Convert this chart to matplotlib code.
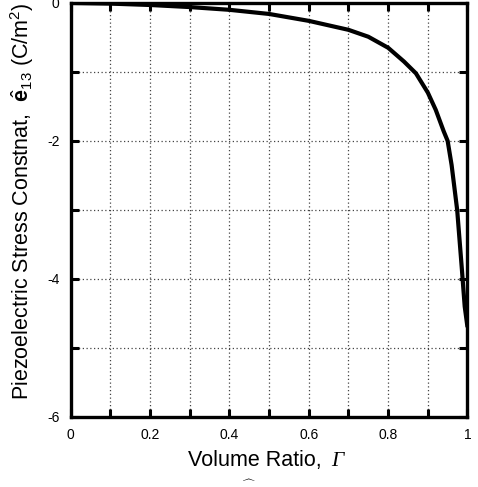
import matplotlib
matplotlib.use("Agg")
import matplotlib.pyplot as plt
from matplotlib.ticker import MultipleLocator, FixedLocator

plt.rcParams['font.family'] = ['Liberation Sans', 'DejaVu Sans']
plt.rcParams['mathtext.fontset'] = 'custom'
plt.rcParams['mathtext.rm'] = 'Liberation Sans'
plt.rcParams['mathtext.it'] = 'Liberation Sans:italic'
plt.rcParams['mathtext.bf'] = 'Liberation Sans:bold'

volume_ratio = [0.0, 0.1, 0.2, 0.3, 0.4, 0.5, 0.6, 0.7, 0.75, 0.8, 0.84, 0.87,
                0.9, 0.92, 0.94, 0.95, 0.96, 0.974, 0.986, 0.993, 1.0]
e13 = [0.0, -0.01, -0.03, -0.06, -0.10, -0.16, -0.26, -0.39, -0.49, -0.65, -0.85, -1.02,
       -1.30, -1.55, -1.86, -2.0, -2.35, -3.0, -3.87, -4.4, -4.7]

x_ticks = [0, 0.2, 0.4, 0.6, 0.8, 1]
x_tick_labels = ['0', '0.2', '0.4', '0.6', '0.8', '1']
y_ticks = [0, -2, -4, -6]
y_tick_labels = ['0', '-2', '-4', '-6']

fig = plt.figure(figsize=(4.78, 4.87), dpi=100)
ax = fig.add_axes([0.148, 0.144, 0.830, 0.850])

ax.plot(volume_ratio, e13, color='black', lw=3.0, solid_joinstyle='round',
        solid_capstyle='butt', zorder=3)

ax.set_xlim(0, 1)
ax.set_ylim(-6, 0)
ax.xaxis.set_major_locator(FixedLocator(x_ticks))
ax.set_xticklabels(x_tick_labels)
ax.xaxis.set_minor_locator(MultipleLocator(0.1))
ax.yaxis.set_major_locator(FixedLocator(y_ticks))
ax.set_yticklabels(y_tick_labels)
ax.yaxis.set_minor_locator(MultipleLocator(1))

ax.grid(True, which='both', linestyle=(0, (1, 2)), color='#444444', linewidth=0.9)
ax.set_axisbelow(True)

for s in ax.spines.values():
    s.set_linewidth(2.4)
ax.tick_params(which='both', direction='in', top=True, right=True,
               length=6, width=2.2, labelsize=10, pad=8)

# x-axis label: upright text followed by an italic serif Gamma
fig.text(322 / 478, 1 - 466 / 487, 'Volume Ratio,', fontsize=15.5,
         ha='right', va='baseline')
fig.text(331 / 478, 1 - 466 / 487, 'Γ', fontsize=15.5,
         family='Liberation Serif', style='italic', ha='left', va='baseline')

# y-axis label
fig.text(22 / 478, 1 - 201 / 487,
         r'Piezoelectric Stress Constnat,  $\hat{\mathbf{e}}_{\mathit{13}}$ (C/m$^{2}$)',
         fontsize=15.5, rotation=90, ha='center', va='center')

fig.text(0.52, 0.005, r'$\widehat{\quad}$', ha='center', va='bottom', fontsize=10)

fig.savefig('out.png', dpi=100)
